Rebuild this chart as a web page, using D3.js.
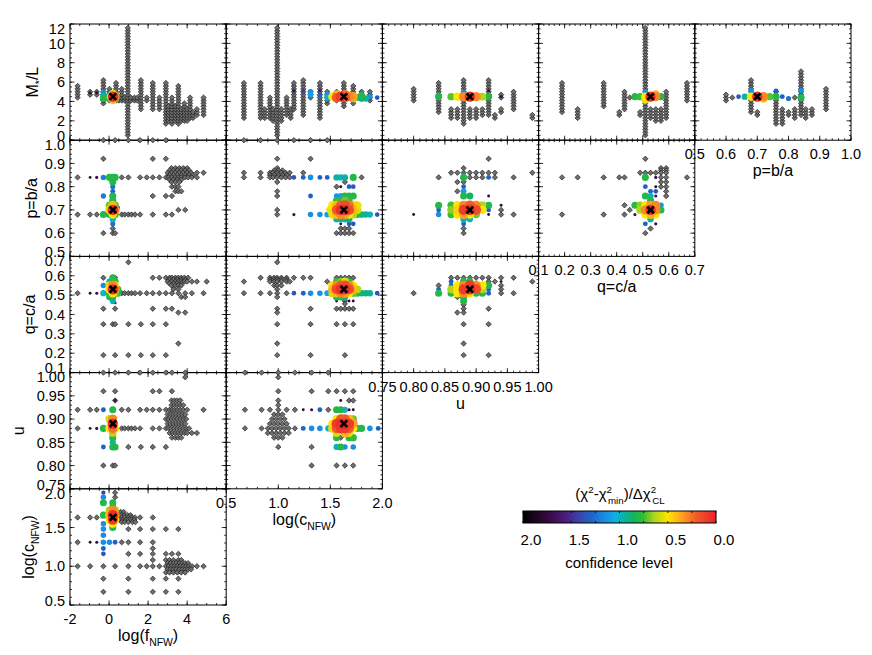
<!DOCTYPE html>
<html>
<head>
<meta charset="utf-8">
<script src="https://cdn.jsdelivr.net/npm/d3@7"></script>
<style>
body { margin: 0; background: #fff; }
text { font-family: "Liberation Sans", Arial, Helvetica, sans-serif; fill: #000; }
.frame { fill: none; stroke: #000; stroke-width: 1; }
.tick { stroke: #000; stroke-width: 0.8; }
.gray { fill: #6e6e6e; stroke: #0d0d0d; stroke-width: 0.6; }
.best { stroke: #000; stroke-width: 2.6; fill: none; }
</style>
</head>
<body>
<div class="container"></div>
<script>
var width = 872,
    height = 655;
var left = 70, top0 = 24, pw = 156.2, ph = 116.2;

// ---------- AXES ----------
var fTicks = [-2, 0, 2, 4, 6];
var cTicks = [0.5, 1.0, 1.5, 2.0];
var uTicks = [0.75, 0.80, 0.85, 0.90, 0.95, 1.00];
var qTicks = [0.1, 0.2, 0.3, 0.4, 0.5, 0.6, 0.7];
var pTicks = [0.5, 0.6, 0.7, 0.8, 0.9, 1.0];
var mlTicks = [0, 2, 4, 6, 8, 10, 12];

var colParams = ["f", "c", "u", "q", "p"];
var rowParams = ["ml", "p", "q", "u", "c"];

// M/L values sampled in the grid search
var mlGrid = [0.5, 0.8, 1.1, 1.4, 1.7, 2.0, 2.3, 2.6, 2.9, 3.2, 3.5, 3.8, 4.1, 4.4, 4.7, 5.0,
  5.3, 5.6, 5.9, 6.2, 6.5, 6.8, 7.1, 7.4, 7.7, 8.0, 8.3, 8.6, 8.9, 9.2, 9.5, 9.8, 10.1,
  10.4, 10.7, 11.0, 11.3, 11.6];

// best fit model
var bestParams = ["f", "c", "u", "q", "p", "ml"];
var bestValues = [0.2, 1.63, 0.89, 0.53, 0.70, 4.5];

// colour bar: scaled delta chi2 -> colour
var cbLevels = [2.0, 1.8, 1.7, 1.55, 1.4, 1.3, 1.15, 1.05, 0.95, 0.85, 0.75, 0.65, 0.5, 0.35, 0.2, 0.0];
var cbColors = ["#000000", "#2a0730", "#3f0b4f", "#4a2080", "#3a48b0", "#2062c4", "#1a8ee0", "#10aee6",
  "#0bb3a0", "#12b55a", "#34bb38", "#a5d41e", "#ffe600", "#fca022", "#f15a28", "#e8202a"];
var cbTicks = [2.0, 1.5, 1.0, 0.5, 0.0];

// ---------- DATA ----------
// M/L panels: gray columns [x, M/L low, M/L high]; hot points [x, M/L, level]
var fML_cols = [[-1.61, 4.2, 5.6], [-0.97, 4.7, 5.2], [-0.63, 4.7, 5.2], [-0.29, 3.6, 6.2], [0.02, 4.0, 5.3],
  [0.36, 4.0, 6.0], [0.5, 4.1, 4.5], [0.65, 4.1, 5.3], [0.8, 4.1, 4.5], [0.96, 0.5, 11.7], [1.12, 4.1, 4.5],
  [1.3, 4.1, 4.5], [1.45, 4.1, 4.4], [1.63, 3.1, 6.3], [1.93, 4.1, 4.5], [2.24, 3.1, 6.0], [2.58, 3.1, 4.6],
  [2.91, 1.7, 6.0], [3.05, 2.0, 3.5], [3.22, 1.7, 4.6], [3.4, 2.0, 3.5], [3.55, 1.7, 5.7], [3.7, 2.0, 3.3],
  [3.86, 1.8, 3.9], [4.0, 2.0, 3.2], [4.15, 2.2, 4.6], [4.3, 2.2, 3.0], [4.5, 2.4, 3.3], [4.84, 2.4, 4.4]];
var fML_hot = [[-0.97, 4.9, 1.7], [-0.63, 4.9, 1.75], [-0.29, 4.9, 1.15], [-0.29, 4.6, 0.95], [-0.29, 4.3, 0.8],
  [0.02, 4.9, 1.3], [0.02, 4.6, 0.8], [0.02, 4.3, 0.75], [0.1, 4.5, 0.5], [0.2, 4.8, 0.57], [0.2, 4.5, 0.05],
  [0.2, 4.2, 0.4], [0.3, 4.5, 0.3], [0.36, 4.3, 0.8], [0.36, 4.6, 0.8]];

var cML_cols = [[0.67, 2.2, 6.0], [0.83, 2.2, 6.0], [0.87, 2.2, 3.4], [0.92, 2.2, 4.6], [0.95, 2.0, 3.4],
  [0.99, 0.3, 11.8], [1.03, 2.0, 3.4], [1.08, 2.4, 4.6], [1.12, 2.3, 3.2], [1.15, 3.1, 6.0], [1.24, 2.4, 6.3],
  [1.31, 4.3, 5.0], [1.40, 2.2, 6.0], [1.47, 3.6, 5.0], [1.56, 4.0, 5.0], [1.63, 3.3, 6.0], [1.72, 3.6, 5.7],
  [1.80, 4.3, 5.0], [1.88, 4.0, 5.0]];
var cML_hot = [[1.15, 5.1, 1.7], [1.24, 5.1, 1.45], [1.31, 5.0, 1.15], [1.31, 4.7, 1.1], [1.40, 5.1, 1.6],
  [1.40, 4.6, 1.3], [1.47, 4.7, 1.15], [1.47, 4.4, 1.0], [1.52, 4.5, 0.5], [1.56, 4.7, 0.4], [1.56, 4.4, 0.2],
  [1.60, 4.5, 0.1], [1.64, 4.7, 0.25], [1.64, 4.4, 0.15], [1.68, 4.5, 0.3], [1.72, 4.5, 0.35], [1.72, 4.3, 0.63],
  [1.76, 4.4, 0.9], [1.80, 4.6, 0.8], [1.80, 4.3, 0.9], [1.84, 4.3, 0.95], [1.88, 4.5, 1.15], [1.95, 4.4, 1.35]];

var uML_cols = [[0.80, 3.9, 5.4], [0.84, 2.8, 6.0], [0.86, 2.2, 3.2], [0.87, 2.2, 3.2], [0.88, 1.5, 6.3],
  [0.89, 2.2, 3.4], [0.90, 2.2, 3.4], [0.91, 2.5, 3.4], [0.92, 2.6, 6.3], [0.93, 2.3, 2.6], [0.94, 2.9, 3.4],
  [0.94, 4.2, 4.7], [0.96, 3.0, 5.0], [0.99, 2.3, 2.6]];
var uML_hot = [[0.84, 4.5, 0.8], [0.86, 4.5, 0.72], [0.87, 4.5, 0.5], [0.88, 4.5, 0.3], [0.88, 4.9, 1.15],
  [0.89, 4.5, 0.05], [0.90, 4.5, 0.3], [0.91, 4.5, 0.63], [0.92, 4.5, 0.8], [0.92, 5.1, 1.75], [0.94, 4.5, 1.7]];

var qML_cols = [[0.19, 2.8, 6.0], [0.25, 2.2, 3.4], [0.35, 3.3, 6.0], [0.41, 2.4, 3.1], [0.43, 3.1, 5.2],
  [0.45, 4.4, 4.6], [0.49, 2.4, 3.1], [0.51, 0.4, 11.9], [0.53, 2.2, 3.4], [0.55, 1.9, 3.4], [0.57, 1.9, 3.4],
  [0.59, 2.2, 5.2], [0.67, 4.1, 6.0]];
var qML_hot = [[0.47, 4.5, 0.8], [0.49, 4.5, 0.75], [0.51, 5.0, 1.15], [0.51, 4.5, 0.5], [0.51, 4.2, 0.53],
  [0.53, 4.5, 0.05], [0.55, 4.5, 0.3], [0.55, 4.7, 0.4], [0.57, 4.5, 0.8]];

var pML_cols = [[0.60, 4.1, 4.7], [0.62, 4.4, 4.6], [0.68, 2.8, 6.2], [0.70, 2.4, 3.1], [0.76, 1.7, 5.2],
  [0.78, 1.7, 3.4], [0.80, 2.6, 3.1], [0.82, 2.1, 3.4], [0.82, 4.4, 4.6], [0.84, 2.6, 7.1], [0.855, 2.1, 3.4],
  [0.875, 2.4, 3.4], [0.92, 3.1, 5.3]];
var pML_hot = [[0.64, 4.5, 1.35], [0.66, 4.5, 0.95], [0.68, 5.1, 1.15], [0.68, 4.5, 0.5], [0.70, 4.5, 0.05],
  [0.72, 4.5, 0.3], [0.72, 4.3, 0.45], [0.74, 4.5, 0.72], [0.76, 5.1, 1.3], [0.76, 4.5, 0.8], [0.78, 4.5, 1.3],
  [0.80, 4.3, 1.25], [0.84, 5.1, 1.15], [0.84, 4.4, 0.8]];

// other panels: gray rows [y, [x...]]; hot points [x, y, level]
var fP_rows = [[1.00, [-0.29, 0.31, 0.99, 1.59, 2.24, 2.91]], [0.92, [-0.29, 2.24, 2.91]],
  [0.88, [3.2, 3.4, 3.6, 3.8, 4.0]], [0.87, [3.1, 3.3, 3.5, 3.7, 3.9, 4.1]],
  [0.86, [3.0, 3.2, 3.4, 3.6, 3.8, 4.0, 4.2, 4.5, 4.84]], [0.85, [3.1, 3.3, 3.5, 3.7, 3.9, 4.1, 4.3]],
  [0.84, [-1.61, 0.65, 0.99, 1.59, 1.93, 2.24, 2.58, 2.91, 3.05, 3.22, 3.4, 3.55, 3.7, 3.9, 4.05, 4.24, 4.5]],
  [0.83, [3.1, 3.3, 3.5, 3.7]], [0.82, [3.2, 3.4, 3.6]], [0.80, [3.22, 3.4, 3.55]], [0.78, [3.4, 3.55, 3.7]],
  [0.76, [2.24, 2.91, 3.22]], [0.70, [3.55, 3.9]],
  [0.68, [-1.61, -0.97, -0.63, 0.65, 0.8, 0.99, 1.15, 1.33, 1.59, 2.24, 2.91, 3.22]],
  [0.62, [0.19]], [0.60, [-0.29, 0.19, 0.31]]];
var fP_hot = [[-0.97, 0.84, 1.75], [-0.63, 0.84, 1.7], [-0.29, 0.84, 1.2], [0.02, 0.84, 0.8], [0.19, 0.84, 0.8],
  [0.31, 0.84, 0.8], [0.19, 0.82, 0.8], [0.19, 0.80, 1.25], [0.19, 0.78, 1.3], [0.19, 0.76, 0.8], [-0.29, 0.76, 1.2],
  [0.19, 0.74, 0.8], [0.02, 0.72, 0.7], [0.19, 0.72, 0.4], [0.31, 0.72, 0.75], [0.45, 0.71, 1.45], [0.02, 0.70, 0.57],
  [0.19, 0.70, 0.05], [0.31, 0.70, 0.3], [0.19, 0.68, 0.5], [0.02, 0.68, 0.8], [-0.29, 0.68, 0.8], [0.31, 0.68, 0.75],
  [0.19, 0.66, 1.0], [0.19, 0.64, 1.25]];

var cP_rows = [[1.00, [0.67, 0.83, 0.99, 1.15, 1.31, 1.47]], [0.92, [0.99, 1.31]], [0.88, [0.99]],
  [0.87, [0.96, 1.0, 1.04]], [0.86, [0.67, 0.83, 0.92, 0.95, 0.99, 1.03, 1.07, 1.11, 1.24]],
  [0.85, [0.92, 0.96, 1.0, 1.04, 1.08]], [0.84, [0.67, 0.83, 0.92, 0.95, 0.99, 1.03, 1.07, 1.11, 1.80]],
  [0.82, [0.99, 1.64]], [0.80, [1.56]], [0.78, [0.99]], [0.76, [0.99]], [0.70, [0.99]], [0.68, [0.99]],
  [0.62, [1.60, 1.64, 1.68]], [0.60, [1.56, 1.60, 1.64, 1.68, 1.72]]];
var cP_hot = [[1.15, 0.84, 1.35], [1.24, 0.84, 1.3], [1.31, 0.84, 1.15], [1.40, 0.84, 1.3], [1.47, 0.84, 1.3],
  [1.56, 0.84, 0.95], [1.60, 0.84, 1.0], [1.64, 0.84, 0.95], [1.72, 0.84, 0.8],
  [1.60, 0.80, 1.75], [1.68, 0.80, 1.3], [1.72, 0.80, 1.35],
  [1.31, 0.76, 1.3], [1.56, 0.76, 1.15], [1.60, 0.76, 1.1], [1.64, 0.76, 0.8], [1.68, 0.76, 0.8], [1.72, 0.76, 0.8],
  [1.56, 0.74, 0.75], [1.60, 0.74, 0.8], [1.64, 0.74, 0.7], [1.68, 0.74, 0.75],
  [1.52, 0.72, 0.5], [1.56, 0.72, 0.4], [1.60, 0.72, 0.2], [1.64, 0.72, 0.15], [1.68, 0.72, 0.25], [1.72, 0.72, 0.45],
  [1.76, 0.72, 0.53], [1.50, 0.70, 0.53], [1.56, 0.70, 0.2], [1.60, 0.70, 0.05], [1.64, 0.70, 0.05], [1.68, 0.70, 0.15],
  [1.72, 0.70, 0.4], [1.76, 0.70, 0.57],
  [1.15, 0.68, 1.7], [1.31, 0.68, 1.15], [1.40, 0.68, 1.15], [1.47, 0.68, 1.1], [1.52, 0.68, 0.53], [1.56, 0.68, 0.4],
  [1.60, 0.68, 0.3], [1.64, 0.68, 0.35], [1.68, 0.68, 0.5], [1.72, 0.68, 0.63], [1.76, 0.68, 0.8], [1.80, 0.68, 0.9],
  [1.84, 0.68, 0.95], [1.88, 0.68, 1.0], [1.95, 0.68, 1.35],
  [1.56, 0.66, 0.95], [1.60, 0.66, 0.95], [1.64, 0.66, 0.95], [1.68, 0.66, 0.9],
  [1.60, 0.64, 1.75], [1.68, 0.64, 1.3], [1.72, 0.64, 1.35]];

var uP_rows = [[0.92, [0.92]], [0.88, [0.88]], [0.86, [0.86, 0.87, 0.88, 0.89, 0.90, 0.91, 0.92, 0.93, 0.99]],
  [0.84, [0.84, 0.89, 0.90, 0.91, 0.93, 0.96]], [0.82, [0.87, 0.88]], [0.78, [0.87]], [0.70, [0.94]],
  [0.68, [0.94, 0.96]], [0.62, [0.88]], [0.60, [0.88]]];
var uP_hot = [[0.88, 0.84, 0.8], [0.92, 0.84, 1.3], [0.88, 0.80, 1.3], [0.88, 0.78, 1.1], [0.88, 0.76, 0.8],
  [0.89, 0.76, 0.85], [0.92, 0.76, 1.75],
  [0.84, 0.72, 0.8], [0.86, 0.72, 0.75], [0.87, 0.72, 0.5], [0.88, 0.72, 0.3], [0.89, 0.72, 0.2], [0.90, 0.72, 0.3],
  [0.91, 0.72, 0.63], [0.92, 0.72, 0.8], [0.94, 0.72, 1.75],
  [0.84, 0.70, 1.3], [0.86, 0.70, 0.67], [0.87, 0.70, 0.45], [0.88, 0.70, 0.1], [0.89, 0.70, 0.05], [0.90, 0.70, 0.15],
  [0.91, 0.70, 0.5], [0.92, 0.70, 1.3],
  [0.80, 0.68, 1.75], [0.84, 0.68, 1.15], [0.86, 0.68, 0.75], [0.87, 0.68, 0.5], [0.88, 0.68, 0.35], [0.89, 0.68, 0.5],
  [0.90, 0.68, 0.7], [0.92, 0.68, 1.75], [0.88, 0.66, 0.95], [0.89, 0.66, 1.0], [0.88, 0.64, 1.3]];

var qP_rows = [[0.92, [0.51]], [0.88, [0.57, 0.59]], [0.87, [0.57, 0.59]], [0.86, [0.49, 0.51, 0.53, 0.55, 0.57, 0.59]],
  [0.84, [0.19, 0.25, 0.35, 0.41, 0.43, 0.57, 0.59, 0.67]], [0.82, [0.57, 0.59]], [0.80, [0.57, 0.59]],
  [0.78, [0.59]], [0.76, [0.59]], [0.72, [0.43]], [0.70, [0.45]], [0.68, [0.19, 0.35, 0.43]],
  [0.62, [0.53]], [0.60, [0.51]]];
var qP_hot = [[0.51, 0.84, 0.8], [0.55, 0.84, 1.7], [0.51, 0.80, 1.3], [0.55, 0.80, 1.75], [0.53, 0.78, 1.3],
  [0.55, 0.78, 1.35], [0.51, 0.76, 0.8], [0.53, 0.76, 1.0], [0.55, 0.76, 1.7], [0.53, 0.74, 0.8],
  [0.47, 0.72, 0.8], [0.49, 0.72, 0.67], [0.51, 0.72, 0.5], [0.53, 0.72, 0.35], [0.55, 0.72, 0.3], [0.57, 0.72, 1.15],
  [0.49, 0.70, 0.63], [0.51, 0.70, 0.3], [0.53, 0.70, 0.05], [0.55, 0.70, 0.3], [0.57, 0.70, 0.8],
  [0.47, 0.68, 1.7], [0.51, 0.68, 0.5], [0.53, 0.68, 0.4], [0.55, 0.68, 0.5],
  [0.53, 0.66, 0.95], [0.51, 0.64, 1.3], [0.55, 0.64, 1.7]];

var fQ_rows = [[0.67, [0.99]], [0.59, [-0.29, 0.31, 2.24, 2.58, 2.91, 3.1, 3.22, 3.4, 3.55, 3.7, 3.86, 4.05]],
  [0.58, [3.1, 3.3, 3.5, 3.7, 3.9]], [0.57, [3.0, 3.2, 3.4, 3.55, 3.7, 3.86, 4.0, 4.24, 4.5, 5.0]],
  [0.56, [3.1, 3.3, 3.5, 3.7]], [0.55, [3.2, 3.4, 3.55, 3.7]], [0.53, [3.3, 3.55]],
  [0.51, [-1.61, 0.65, 0.8, 0.99, 1.15, 1.33, 1.59, 1.93, 2.24, 2.58, 2.91, 3.22, 3.55, 3.9, 4.24, 4.84]],
  [0.49, [3.7, 3.9]], [0.43, [-0.29, 0.31, 2.24, 2.91, 3.22]], [0.41, [3.55, 3.9]],
  [0.35, [-0.29, 0.19, 0.31, 0.99, 1.63, 2.24, 2.91]], [0.25, [3.55]], [0.19, [-0.29, 0.31, 0.99, 1.63, 2.24, 2.91]]];
var fQ_hot = [[0.19, 0.59, 0.8], [0.02, 0.57, 1.0], [0.19, 0.57, 0.75], [0.31, 0.57, 0.8], [-0.29, 0.55, 1.15],
  [0.02, 0.55, 0.57], [0.19, 0.55, 0.3], [0.31, 0.55, 0.53], [0.02, 0.53, 0.5], [0.19, 0.53, 0.05], [0.31, 0.53, 0.3],
  [0.45, 0.53, 0.8], [-0.97, 0.51, 1.75], [-0.63, 0.51, 1.7], [-0.29, 0.51, 1.0], [0.02, 0.51, 0.75], [0.19, 0.51, 0.5],
  [0.31, 0.51, 0.7], [0.45, 0.51, 0.8], [0.19, 0.49, 0.8], [0.02, 0.49, 0.9], [0.19, 0.47, 1.0], [0.31, 0.46, 1.75]];

var cQ_rows = [[0.67, [0.99]], [0.59, [0.83, 0.92, 0.96, 0.99, 1.03, 1.08, 1.15, 1.24, 1.31, 1.56, 1.60, 1.64, 1.68, 1.72]],
  [0.58, [0.92, 0.96, 0.99, 1.03, 1.08]], [0.57, [0.67, 0.92, 0.96, 0.99, 1.03, 1.08, 1.11, 1.47]],
  [0.55, [0.96, 0.99, 1.03]], [0.53, [0.99]], [0.51, [0.67, 0.83, 0.92, 0.99, 1.08]], [0.49, [0.99]],
  [0.47, [1.64]], [0.455, [1.64]], [0.43, [0.99, 1.31, 1.56, 1.60, 1.64, 1.68, 1.72]], [0.41, [0.99]],
  [0.35, [0.99, 1.31, 1.56, 1.64, 1.72]], [0.25, [0.99]], [0.19, [0.99, 1.31, 1.64]]];
var cQ_hot = [[1.56, 0.57, 0.75], [1.60, 0.57, 0.7], [1.64, 0.57, 0.57], [1.68, 0.57, 0.75],
  [1.52, 0.55, 0.5], [1.56, 0.55, 0.3], [1.60, 0.55, 0.2], [1.64, 0.55, 0.15], [1.68, 0.55, 0.3], [1.72, 0.55, 0.5],
  [1.52, 0.53, 0.4], [1.56, 0.53, 0.15], [1.60, 0.53, 0.05], [1.64, 0.53, 0.05], [1.68, 0.53, 0.15], [1.72, 0.53, 0.4],
  [1.76, 0.53, 0.63], [1.15, 0.51, 1.35], [1.24, 0.51, 1.3], [1.31, 0.51, 1.15], [1.40, 0.51, 1.15], [1.47, 0.51, 1.1],
  [1.52, 0.51, 0.57], [1.56, 0.51, 0.4], [1.60, 0.51, 0.3], [1.64, 0.51, 0.35], [1.68, 0.51, 0.5], [1.72, 0.51, 0.7],
  [1.76, 0.51, 0.8], [1.80, 0.51, 0.9], [1.84, 0.51, 0.9], [1.88, 0.51, 0.95], [1.95, 0.51, 1.35],
  [1.56, 0.49, 0.8], [1.60, 0.49, 0.8], [1.64, 0.49, 0.9], [1.56, 0.47, 1.75], [1.68, 0.47, 1.75], [1.72, 0.47, 1.75]];

var uQ_rows = [[0.59, [0.86, 0.87, 0.88, 0.89, 0.90, 0.91, 0.92, 0.94, 0.96]], [0.57, [0.92, 0.93, 0.99]],
  [0.55, [0.84, 0.94]], [0.53, [0.94]], [0.51, [0.80, 0.94, 0.96]], [0.49, [0.87]], [0.45, [0.88]],
  [0.43, [0.88, 0.92]], [0.41, [0.87, 0.88]], [0.35, [0.88, 0.92]], [0.25, [0.88]], [0.19, [0.88, 0.92]]];
var uQ_hot = [[0.86, 0.57, 1.3], [0.88, 0.57, 0.8], [0.89, 0.57, 0.8], [0.94, 0.57, 1.75],
  [0.86, 0.55, 1.3], [0.87, 0.55, 0.5], [0.88, 0.55, 0.3], [0.89, 0.55, 0.1], [0.90, 0.55, 0.3], [0.91, 0.55, 0.5],
  [0.92, 0.55, 0.8], [0.84, 0.53, 1.3], [0.86, 0.53, 0.63], [0.87, 0.53, 0.5], [0.88, 0.53, 0.1], [0.89, 0.53, 0.05],
  [0.90, 0.53, 0.15], [0.91, 0.53, 0.63], [0.92, 0.53, 1.3], [0.84, 0.51, 0.8], [0.86, 0.51, 0.8], [0.87, 0.51, 0.5],
  [0.88, 0.51, 0.3], [0.89, 0.51, 0.5], [0.90, 0.51, 0.8], [0.91, 0.51, 0.8], [0.92, 0.51, 1.3],
  [0.88, 0.49, 0.8], [0.88, 0.47, 0.8]];

var fU_rows = [[1.00, [-0.29, 0.31, 0.99, 1.59, 2.24, 2.91, 3.22, 3.9]], [0.99, [3.9]],
  [0.96, [-0.29, 0.31, 2.24, 2.58, 3.22]], [0.94, [0.31, 3.2, 3.35, 3.5, 3.65]], [0.93, [3.2, 3.35, 3.5, 3.65, 3.8]],
  [0.92, [-1.61, -0.97, -0.63, 0.65, 0.99, 1.59, 1.93, 2.24, 2.58, 2.91, 3.1, 3.22, 3.35, 3.5, 3.65, 3.8, 4.0, 4.84]],
  [0.91, [3.0, 3.15, 3.3, 3.45, 3.6, 3.75, 3.9]], [0.90, [2.91, 3.05, 3.2, 3.35, 3.5, 3.65, 3.8, 3.95]],
  [0.89, [3.0, 3.15, 3.3, 3.45, 3.6, 3.75, 3.9]],
  [0.88, [-1.61, 0.65, 0.8, 0.99, 1.15, 1.33, 1.59, 2.24, 2.58, 2.91, 3.05, 3.2, 3.35, 3.5, 3.65, 3.8, 3.95, 4.1]],
  [0.87, [3.1, 3.25, 3.4, 3.55, 3.7, 3.86, 4.0, 4.24, 4.5]], [0.86, [3.22, 3.4, 3.55, 3.7]],
  [0.84, [0.99, 1.63, 2.24, 2.91]], [0.80, [-0.29, 0.19, 0.31]]];
var fU_hot = [[0.31, 0.94, 1.75], [-0.29, 0.92, 1.3], [0.19, 0.92, 0.8], [0.02, 0.90, 0.57], [0.19, 0.90, 0.3],
  [0.19, 0.89, 0.05], [0.19, 0.88, 0.25], [0.02, 0.88, 0.5], [0.31, 0.88, 0.5], [-0.97, 0.88, 1.75], [-0.63, 0.88, 1.7],
  [-0.29, 0.88, 0.8], [0.19, 0.87, 0.63], [0.19, 0.86, 0.8], [0.19, 0.85, 1.0], [-0.29, 0.84, 1.3], [0.19, 0.84, 0.8],
  [0.31, 0.84, 0.8]];

var cU_rows = [[1.00, [0.68, 0.84, 1.0, 1.16, 1.32, 1.48]], [0.99, [1.0]], [0.96, [1.0, 1.32, 1.48, 1.56, 1.64, 1.72]],
  [0.94, [1.0, 1.68, 1.72]], [0.93, [1.0]], [0.92, [0.68, 0.84, 0.92, 1.0, 1.08, 1.16, 1.48]],
  [0.91, [0.96, 1.0, 1.04]], [0.90, [0.94, 0.98, 1.02, 1.06]], [0.89, [0.92, 0.96, 1.0, 1.04, 1.08]],
  [0.88, [0.68, 0.84, 0.9, 0.94, 0.98, 1.02, 1.06, 1.1, 1.16]], [0.87, [0.9, 0.94, 0.98, 1.02, 1.06, 1.1]],
  [0.86, [0.96, 1.0, 1.04, 1.60]], [0.84, [1.0, 1.32]], [0.80, [1.32, 1.56, 1.64, 1.72]]];
var cU_hot = [[1.60, 0.94, 1.75], [1.24, 0.92, 1.75], [1.32, 0.92, 1.7], [1.40, 0.92, 1.3], [1.56, 0.92, 0.8],
  [1.60, 0.92, 0.8], [1.64, 0.92, 1.0], [1.68, 0.92, 1.7], [1.72, 0.92, 1.75],
  [1.56, 0.90, 0.5], [1.60, 0.90, 0.2], [1.64, 0.90, 0.2], [1.68, 0.90, 0.4], [1.72, 0.90, 0.7],
  [1.52, 0.89, 0.5], [1.56, 0.89, 0.1], [1.60, 0.89, 0.05], [1.64, 0.89, 0.05], [1.68, 0.89, 0.1], [1.72, 0.89, 0.35],
  [1.24, 0.88, 1.3], [1.32, 0.88, 1.15], [1.40, 0.88, 1.15], [1.48, 0.88, 1.0], [1.52, 0.88, 0.45], [1.56, 0.88, 0.2],
  [1.60, 0.88, 0.1], [1.64, 0.88, 0.1], [1.68, 0.88, 0.2], [1.72, 0.88, 0.5], [1.76, 0.88, 0.8], [1.80, 0.88, 0.8],
  [1.88, 0.88, 1.15], [1.96, 0.88, 1.3], [1.56, 0.87, 0.57], [1.64, 0.87, 0.4], [1.68, 0.87, 0.57],
  [1.56, 0.86, 0.8], [1.68, 0.86, 0.8], [1.72, 0.86, 0.75],
  [1.56, 0.84, 1.0], [1.60, 0.84, 0.8], [1.64, 0.84, 1.15], [1.72, 0.84, 1.15]];

var fC_rows = [[1.95, [0.31]], [1.89, [0.31]], [1.70, [0.45, 0.6, 0.75]], [1.66, [0.5, 0.65, 0.8, 0.95, 1.1]],
  [1.63, [-1.61, -0.97, -0.63, 0.65, 0.8, 0.99, 1.15, 1.33, 1.59, 2.24]], [1.60, [0.55, 0.7, 0.85, 1.0, 1.15, 1.3]],
  [1.57, [0.65, 0.8, 0.99, 1.2, 1.35]], [1.48, [0.99, 1.59, 2.24, 2.91, 3.55]], [1.31, [-1.61, 0.65, 0.99, 1.59, 2.24]],
  [1.23, [2.24]], [1.16, [0.99, 1.59, 2.24, 2.91, 3.22, 3.55]], [1.08, [2.24, 2.91, 3.1, 3.3, 3.55, 3.7]],
  [1.04, [3.0, 3.15, 3.3, 3.45, 3.6, 3.75, 3.9, 4.05]],
  [1.00, [-1.61, -0.97, -0.29, 0.31, 0.99, 1.59, 1.93, 2.24, 2.58, 2.91, 3.05, 3.2, 3.35, 3.5, 3.65, 3.8, 3.95, 4.1, 4.25, 4.5, 4.84]],
  [0.96, [3.0, 3.15, 3.3, 3.45, 3.6, 3.75, 3.9, 4.05, 4.2]], [0.92, [2.91, 3.1, 3.3, 3.5, 3.7, 3.9]],
  [0.84, [-0.29, 0.99, 2.24, 2.91, 3.55]], [0.67, [-0.29, 0.99, 2.24, 2.91, 3.55]]];
var fC_hot = [[-0.29, 1.95, 1.45], [-0.29, 1.89, 1.15], [-0.29, 1.82, 0.8], [0.19, 1.82, 0.8], [0.19, 1.76, 0.75],
  [0.02, 1.72, 0.63], [0.19, 1.72, 0.3], [0.31, 1.72, 0.63], [-0.29, 1.66, 0.8], [0.02, 1.66, 0.4], [0.19, 1.66, 0.05],
  [0.31, 1.66, 0.3], [0.02, 1.60, 0.5], [0.19, 1.60, 0.1], [0.31, 1.60, 0.5], [0.19, 1.55, 0.5], [-0.29, 1.55, 1.15],
  [0.19, 1.50, 0.8], [-0.29, 1.48, 1.15], [-0.29, 1.40, 1.15], [-0.97, 1.31, 1.75], [-0.63, 1.31, 1.7],
  [-0.29, 1.31, 1.15], [0.02, 1.31, 1.15], [0.31, 1.31, 1.3], [-0.29, 1.23, 1.3], [-0.29, 1.16, 1.35]];

var panelData = {
  f_ml: { cols: fML_cols, hot: fML_hot }, c_ml: { cols: cML_cols, hot: cML_hot },
  u_ml: { cols: uML_cols, hot: uML_hot }, q_ml: { cols: qML_cols, hot: qML_hot },
  p_ml: { cols: pML_cols, hot: pML_hot },
  f_p: { rows: fP_rows, hot: fP_hot }, c_p: { rows: cP_rows, hot: cP_hot },
  u_p: { rows: uP_rows, hot: uP_hot }, q_p: { rows: qP_rows, hot: qP_hot },
  f_q: { rows: fQ_rows, hot: fQ_hot }, c_q: { rows: cQ_rows, hot: cQ_hot }, u_q: { rows: uQ_rows, hot: uQ_hot },
  f_u: { rows: fU_rows, hot: fU_hot }, c_u: { rows: cU_rows, hot: cU_hot },
  f_c: { rows: fC_rows, hot: fC_hot }
};

var axes = {
  f: { ticks: fTicks, minor: 0.5, fmt: function(v) { return String(v); }, title: [["log(f", 0], ["NFW", -1], [")", 0]] },
  c: { ticks: cTicks, minor: 0.1, fmt: d3.format(".1f"), title: [["log(c", 0], ["NFW", -1], [")", 0]] },
  u: { ticks: uTicks, minor: 0.01, fmt: d3.format(".2f"), title: [["u", 0]] },
  q: { ticks: qTicks, minor: 0.02, fmt: d3.format(".1f"), title: [["q=c/a", 0]] },
  p: { ticks: pTicks, minor: 0.02, fmt: d3.format(".1f"), title: [["p=b/a", 0]] },
  ml: { ticks: mlTicks, minor: 0.5, fmt: d3.format("d"), title: [["M", 0], ["*", -1], ["/L", 0]] }
};
var yTitleX = { ml: 38, p: 37, q: 35, u: 24, c: 34 };
var tickFont = 14.5, titleFont = 16;

var colour = d3.scaleLinear().domain(cbLevels).range(cbColors).clamp(true);
function radius(lev) { return 0.9 + 2.2 * (2 - lev); }

var svg = d3.select(".container").append("svg")
    .attr("width", width)
    .attr("height", height);
svg.append("rect").attr("width", width).attr("height", height).attr("fill", "#fff");

function minorTicks(a) {
  var lo = a.ticks[0], hi = a.ticks[a.ticks.length - 1];
  var n = Math.round((hi - lo) / a.minor);
  return d3.range(n + 1).map(function(i) { return lo + i * a.minor; });
}

// text with sub/superscript pieces: [string, -1 sub | 0 | 1 sup, dx]
function richText(t, parts, fs) {
  var cur = 0;
  parts.forEach(function(p) {
    var off = p[1] === -1 ? fs * 0.3 : (p[1] === 1 ? -fs * 0.42 : 0);
    var s = t.append("tspan").text(p[0]).attr("dy", off - cur);
    if (p[1] !== 0) s.attr("font-size", fs * 0.65);
    if (p[2]) s.attr("dx", p[2]);
    cur = off;
  });
}

var diamond = "M0,-2.7L2.7,0L0,2.7L-2.7,0Z";

// ---------- PANELS ----------
rowParams.forEach(function(yp, r) {
  colParams.forEach(function(xp, c) {
    if (c > 4 - r) return;
    var xa = axes[xp], ya = axes[yp];
    var x0 = left + c * pw, y0 = top0 + r * ph;
    var xs = d3.scaleLinear().domain(d3.extent(xa.ticks)).range([0, pw]);
    var ys = d3.scaleLinear().domain(d3.extent(ya.ticks)).range([ph, 0]);
    var g = svg.append("g").attr("transform", "translate(" + x0 + "," + y0 + ")");

    g.append("rect").attr("class", "frame").attr("width", pw).attr("height", ph);

    var xt = minorTicks(xa).map(function(v) { return { v: v, len: 2 }; })
      .concat(xa.ticks.map(function(v) { return { v: v, len: 4.5 }; }));
    var yt = minorTicks(ya).map(function(v) { return { v: v, len: 2 }; })
      .concat(ya.ticks.map(function(v) { return { v: v, len: 4.5 }; }));
    xt.forEach(function(d) {
      var x = xs(d.v);
      g.append("line").attr("class", "tick").attr("x1", x).attr("x2", x).attr("y1", ph).attr("y2", ph - d.len);
      g.append("line").attr("class", "tick").attr("x1", x).attr("x2", x).attr("y1", 0).attr("y2", d.len);
    });
    yt.forEach(function(d) {
      var y = ys(d.v);
      g.append("line").attr("class", "tick").attr("y1", y).attr("y2", y).attr("x1", 0).attr("x2", d.len);
      g.append("line").attr("class", "tick").attr("y1", y).attr("y2", y).attr("x1", pw).attr("x2", pw - d.len);
    });

    // gray models outside the confidence region
    var data = panelData[xp + "_" + yp];
    var grayPts = [];
    if (data.cols) {
      data.cols.forEach(function(col) {
        mlGrid.forEach(function(m) {
          if (m >= col[1] - 0.01 && m <= col[2] + 0.01) grayPts.push([col[0], m]);
        });
      });
    } else {
      data.rows.forEach(function(row) {
        row[1].forEach(function(x) { grayPts.push([x, row[0]]); });
      });
    }
    g.selectAll(".gray").data(grayPts).enter().append("path")
      .attr("class", "gray")
      .attr("d", diamond)
      .attr("transform", function(d) { return "translate(" + xs(d[0]) + "," + ys(d[1]) + ")"; });

    // coloured models, best (red) drawn last
    var hot = data.hot.slice().sort(function(a, b) { return b[2] - a[2]; });
    g.selectAll(".hot").data(hot).enter().append("circle")
      .attr("class", "hot")
      .attr("cx", function(d) { return xs(d[0]); })
      .attr("cy", function(d) { return ys(d[1]); })
      .attr("r", function(d) { return radius(d[2]); })
      .attr("fill", function(d) { return colour(d[2]); });

    var bx = xs(bestValues[bestParams.indexOf(xp)]), by = ys(bestValues[bestParams.indexOf(yp)]);
    g.append("path").attr("class", "best")
      .attr("d", "M-3.3,-3.3L3.3,3.3M-3.3,3.3L3.3,-3.3")
      .attr("transform", "translate(" + bx + "," + by + ")");

    // y labels on first column; end labels nudged inward as in the figure
    if (c === 0) {
      var yl = ya.ticks;
      yl.forEach(function(v, i) {
        var shift = i === yl.length - 1 ? 4.5 : (i === 0 ? -4.5 : 0);
        g.append("text").attr("x", -5).attr("y", ys(v) + shift).attr("dy", "0.36em")
          .attr("text-anchor", "end").attr("font-size", tickFont).text(ya.fmt(v));
      });
      var yt2 = g.append("text").attr("font-size", titleFont).attr("text-anchor", "middle")
        .attr("transform", "translate(" + (yTitleX[yp] - x0) + "," + (ph / 2) + ") rotate(-90)");
      richText(yt2, ya.title, titleFont);
    }
    // x labels on last panel of the row
    if (c === 4 - r) {
      xa.ticks.forEach(function(v) {
        g.append("text").attr("x", xs(v)).attr("y", ph + 19)
          .attr("text-anchor", "middle").attr("font-size", tickFont).text(xa.fmt(v));
      });
      var xt2 = g.append("text").attr("font-size", titleFont).attr("text-anchor", "middle")
        .attr("x", pw / 2).attr("y", ph + 36);
      richText(xt2, xa.title, titleFont);
    }
  });
});

// ---------- COLOUR BAR ----------
var cbX = 523, cbY = 511, cbW = 193, cbH = 12;
var cbScale = d3.scaleLinear().domain([2.0, 0.0]).range([cbX, cbX + cbW]);
var grad = svg.append("defs").append("linearGradient").attr("id", "cbgrad");
grad.selectAll("stop").data(cbLevels).enter().append("stop")
  .attr("offset", function(d) { return (2 - d) / 2; })
  .attr("stop-color", function(d, i) { return cbColors[i]; });
svg.append("rect").attr("x", cbX).attr("y", cbY).attr("width", cbW).attr("height", cbH)
  .attr("fill", "url(#cbgrad)").attr("stroke", "#000").attr("stroke-width", 1);
d3.range(9).forEach(function(i) {
  var x = cbScale(2 - i * 0.25);
  svg.append("line").attr("class", "tick").attr("x1", x).attr("x2", x).attr("y1", cbY).attr("y2", cbY + 2).attr("stroke-width", 0.5);
  svg.append("line").attr("class", "tick").attr("x1", x).attr("x2", x).attr("y1", cbY + cbH).attr("y2", cbY + cbH - 2).attr("stroke-width", 0.5);
});
cbTicks.forEach(function(v) {
  svg.append("text").attr("x", cbScale(v) + 8).attr("y", 545).attr("text-anchor", "middle")
    .attr("font-size", 15).text(d3.format(".1f")(v));
});
var cbt = svg.append("text").attr("x", 620).attr("y", 499).attr("text-anchor", "middle").attr("font-size", 15);
richText(cbt, [["(\u03c7", 0], ["2", 1], ["-\u03c7", 0], ["2", 1], ["min", -1, -4], [")/\u0394\u03c7", 0], ["2", 1], ["CL", -1, -4]], 15);
svg.append("text").attr("x", 619).attr("y", 568).attr("text-anchor", "middle").attr("font-size", 15).text("confidence level");
</script>
</body>
</html>
